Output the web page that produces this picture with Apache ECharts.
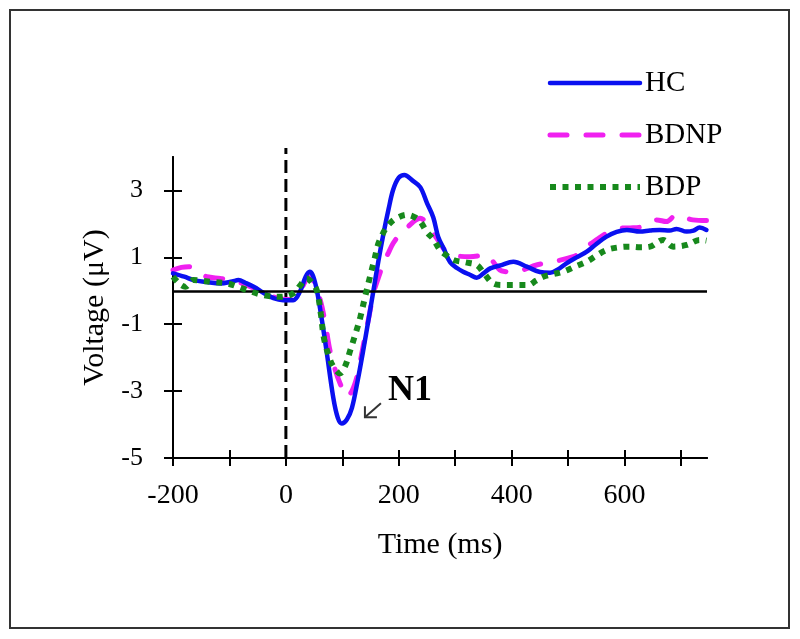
<!DOCTYPE html>
<html>
<head>
<meta charset="utf-8">
<script src="https://cdn.jsdelivr.net/npm/echarts@6/dist/echarts.min.js"></script>
<style>
html,body{margin:0;padding:0;background:#fff;}
#chart{width:800px;height:639px;}
</style>
</head>
<body>
<div id="chart"></div>
<script>
// ---- data (time in ms, voltage in µV) ----
const seriesNames = ['HC', 'BDNP', 'BDP'];
const xTicks = [-200, -100, 0, 100, 200, 300, 400, 500, 600, 700];
const xLabels = [-200, 0, 200, 400, 600];
const yTicks = [-5, -3, -1, 1, 3];

const hcData = [[-200,0.52],[-180,0.42],[-164,0.32],[-140,0.26],[-116,0.22],[-95,0.28],[-84,0.32],[-72,0.24],[-57,0.12],[-40,-0.06],[-22,-0.22],[-5,-0.28],[13,-0.28],[25,-0.02],[35,0.42],[42,0.57],[48,0.45],[55,0.0],[64,-0.9],[72,-1.8],[84,-3.2],[92,-3.8],[99,-3.97],[108,-3.85],[117,-3.5],[127,-2.7],[137,-1.78],[146,-0.9],[155,0.0],[164,0.9],[173,1.72],[182,2.45],[190,3.02],[200,3.38],[210,3.46],[224,3.3],[238,3.1],[250,2.62],[261,2.2],[270,1.6],[280,1.25],[291,0.85],[303,0.68],[314,0.57],[326,0.48],[338,0.39],[350,0.52],[362,0.67],[380,0.76],[403,0.87],[427,0.72],[450,0.56],[468,0.54],[482,0.64],[497,0.82],[515,1.0],[533,1.17],[550,1.4],[568,1.62],[586,1.76],[604,1.82],[627,1.77],[645,1.8],[662,1.82],[680,1.8],[692,1.85],[710,1.77],[722,1.8],[733,1.89],[745,1.82]];

const bdnpData = [[-200,0.62],[-185,0.7],[-172,0.72],[-156,0.55],[-140,0.42],[-116,0.37],[-90,0.3],[-63,0.12],[-40,-0.03],[-22,-0.18],[-5,-0.25],[8,-0.26],[18,-0.15],[25,-0.03],[35,0.3],[42,0.42],[50,0.25],[61,-0.28],[70,-1.0],[78,-1.78],[88,-2.4],[96,-2.77],[108,-3.17],[117,-3.0],[126,-2.57],[133,-2.0],[140,-1.38],[148,-0.7],[155,-0.08],[164,0.4],[173,0.82],[182,1.15],[190,1.42],[200,1.65],[211,1.82],[225,2.05],[238,2.17],[248,2.05],[255,1.87],[270,1.5],[285,1.15],[300,1.05],[326,1.02],[356,1.07],[368,0.85],[379,0.62],[390,0.57],[403,0.55],[420,0.62],[444,0.77],[474,0.87],[509,1.02],[522,1.15],[533,1.32],[550,1.52],[568,1.72],[592,1.87],[610,1.88],[627,1.9],[645,2.0],[657,2.12],[674,2.07],[692,2.27],[705,2.2],[721,2.12],[745,2.1]];

const bdpData = [[-200,0.42],[-188,0.2],[-178,0.12],[-164,0.32],[-150,0.3],[-134,0.27],[-104,0.22],[-85,0.12],[-69,0.02],[-40,-0.13],[-10,-0.18],[13,-0.08],[25,0.15],[37,0.37],[46,0.25],[55,0.0],[62,-0.7],[67,-1.38],[75,-1.9],[84,-2.27],[96,-2.47],[105,-2.25],[114,-1.78],[123,-1.3],[132,-0.78],[140,-0.2],[149,0.42],[157,0.95],[164,1.42],[172,1.72],[179,1.92],[188,2.08],[196,2.17],[214,2.27],[228,2.2],[238,2.07],[250,1.75],[261,1.55],[273,1.22],[285,1.05],[297,0.92],[318,0.85],[338,0.77],[352,0.5],[367,0.22],[385,0.17],[409,0.17],[429,0.17],[443,0.3],[456,0.42],[474,0.5],[491,0.57],[512,0.72],[533,0.87],[550,1.05],[568,1.22],[590,1.3],[609,1.32],[627,1.3],[645,1.32],[668,1.52],[686,1.32],[710,1.37],[733,1.52],[745,1.5]];

const onsetLine = [[0,-5],[0,4.27]];
const n1LabelAt = [181, -3.0];
const n1ArrowTip = [140, -3.78];

// ---- chart ----
const serif = '"Liberation Serif","Times New Roman",serif';
const X_MIN = -200, X_MAX = 746, Y_MIN = -5, Y_MAX = 4;
const tickStyle = {color:'#000', width:2};
const hiddenLabel = {color:'rgba(0,0,0,0)', fontSize:8};

const chart = echarts.init(document.getElementById('chart'), null, {renderer:'canvas'});

const option = {
  animation: false,
  backgroundColor: '#fff',
  grid: [
    {left:173, right:93, top:157, bottom:181, outerBoundsMode:'none'},   // plot
    {left:173, right:93, top:148, bottom:181, outerBoundsMode:'none'},   // onset line
    {left:173, right:93, top:458, height:20, outerBoundsMode:'none'},    // upward x ticks
    {left:153, width:20, top:157, bottom:181, outerBoundsMode:'none'}    // rightward y ticks
  ],
  legend: {
    data: seriesNames,
    orient: 'vertical',
    left: 547, top: 68,
    itemWidth: 90, itemHeight: 14, itemGap: 22,
    padding: 0,
    textStyle: {fontFamily: serif, fontSize: 29, color: '#000', lineHeight: 30},
    itemStyle: {opacity: 0},
    lineStyle: {width: 'inherit', opacity: 1}
  },
  xAxis: [
    {gridIndex:0, type:'value', min:X_MIN, max:X_MAX, position:'bottom',
     name:'Time (ms)', nameLocation:'middle', nameGap:72,
     nameTextStyle:{fontFamily:serif, fontSize:30, color:'#000'},
     axisLine:{show:true, onZero:false, lineStyle:{color:'#000', width:2}},
     axisTick:{show:true, customValues:xTicks, length:8, lineStyle:tickStyle},
     axisLabel:{customValues:xLabels, margin:24, fontFamily:serif, fontSize:28, color:'#000'},
     splitLine:{show:false}},
    {gridIndex:1, type:'value', min:X_MIN, max:X_MAX, show:false},
    {gridIndex:2, type:'value', min:X_MIN, max:X_MAX, position:'top',
     axisLine:{show:true, onZero:false, lineStyle:{color:'#000', width:2}},
     axisTick:{show:true, customValues:xTicks, length:8, lineStyle:tickStyle},
     axisLabel:Object.assign({show:true, customValues:xTicks}, hiddenLabel),
     splitLine:{show:false}},
    {gridIndex:3, type:'value', min:0, max:1, show:false}
  ],
  yAxis: [
    {gridIndex:0, type:'value', min:Y_MIN, max:Y_MAX, position:'left',
     name:'Voltage (μV)', nameLocation:'middle', nameGap:60,
     nameTextStyle:{fontFamily:serif, fontSize:30, color:'#000'},
     axisLine:{show:true, onZero:false, lineStyle:{color:'#000', width:2}},
     axisTick:{show:true, customValues:yTicks, length:9, lineStyle:tickStyle},
     axisLabel:{customValues:yTicks, margin:30, fontFamily:serif, fontSize:26, color:'#000'},
     splitLine:{show:false}},
    {gridIndex:1, type:'value', min:Y_MIN, max:4.27, show:false},
    {gridIndex:2, type:'value', min:0, max:1, show:false},
    {gridIndex:3, type:'value', min:Y_MIN, max:Y_MAX, position:'right',
     axisLine:{show:true, onZero:false, lineStyle:{color:'#000', width:2}},
     axisTick:{show:true, customValues:yTicks, length:9, lineStyle:tickStyle},
     axisLabel:Object.assign({show:true, customValues:yTicks}, hiddenLabel),
     splitLine:{show:false}}
  ],
  series: [
    {name:'onset', type:'line', xAxisIndex:1, yAxisIndex:1, data:onsetLine,
     symbol:'none', silent:true, z:2,
     lineStyle:{color:'#000', width:3, type:[13,6]}},
    {name:'HC', type:'line', xAxisIndex:0, yAxisIndex:0, data:hcData,
     symbol:'none', showSymbol:false, smooth:0.35, z:4,
     lineStyle:{color:'#0a10f0', width:4.5, cap:'round', join:'round'},
     itemStyle:{color:'#0a10f0'},
     markLine:{silent:true, symbol:'none', label:{show:false},
       lineStyle:{color:'#000', width:2.5, type:'solid'}, data:[{yAxis:0}]}},
    {name:'BDNP', type:'line', xAxisIndex:0, yAxisIndex:0, data:bdnpData,
     symbol:'none', showSymbol:false, smooth:0.35, z:3,
     lineStyle:{color:'#f020f0', width:5, type:[17,19], cap:'round'},
     itemStyle:{color:'#f020f0'}},
    {name:'BDP', type:'line', xAxisIndex:0, yAxisIndex:0, data:bdpData,
     symbol:'none', showSymbol:false, smooth:0.35, z:5,
     lineStyle:{color:'#17891c', width:6, type:[6,6.5], cap:'butt'},
     itemStyle:{color:'#17891c'}}
  ]
};
chart.setOption(option);

const pLabel = chart.convertToPixel({xAxisIndex:0, yAxisIndex:0}, n1LabelAt);
const pTip = chart.convertToPixel({xAxisIndex:0, yAxisIndex:0}, n1ArrowTip);

chart.setOption({
  graphic: [
    {type:'rect', shape:{x:10, y:10, width:779, height:618},
     style:{fill:'none', stroke:'#333', lineWidth:2}, silent:true},
    {type:'text', x:pLabel[0], y:pLabel[1],
     style:{text:'N1', font:'bold 36px ' + serif, fill:'#000',
            verticalAlign:'middle', textVerticalAlign:'middle'}},
    {type:'polyline', shape:{points:[[pTip[0]+16, pTip[1]-14],[pTip[0], pTip[1]]]},
     style:{stroke:'#333', lineWidth:2, fill:'none'}},
    {type:'polyline', shape:{points:[[pTip[0], pTip[1]-11],[pTip[0], pTip[1]],[pTip[0]+12, pTip[1]]]},
     style:{stroke:'#333', lineWidth:2, fill:'none'}}
  ]
});
</script>
</body>
</html>
